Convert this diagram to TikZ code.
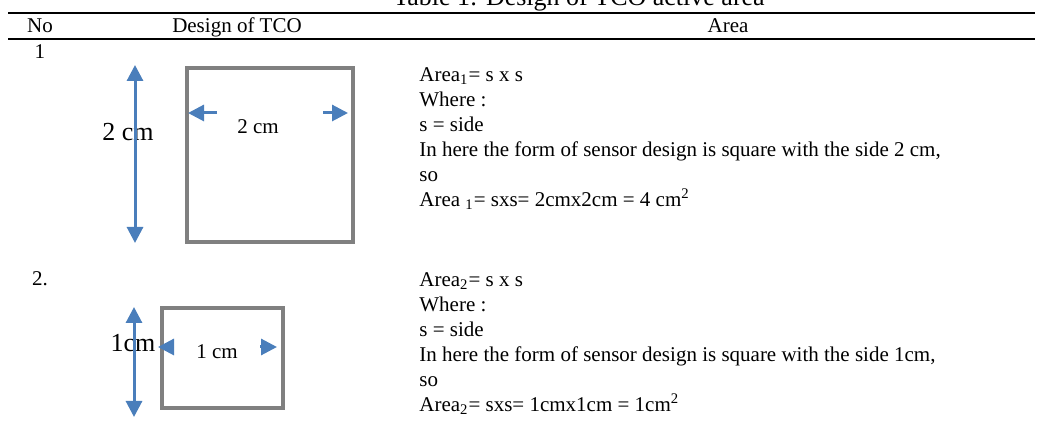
\documentclass[tikz,border=0pt]{standalone}
\usepackage{fontspec}
\setmainfont{Liberation Serif}
\usetikzlibrary{arrows.meta}
\definecolor{arrowblue}{RGB}{74,126,187}
\definecolor{framegray}{RGB}{128,128,128}

\begin{document}
\begin{tikzpicture}[x=0.5pt,y=-0.5pt,
    every node/.style={inner sep=0pt, font=\fontsize{10.5}{12.5}\selectfont},
    square/.style={draw=framegray, line width=2pt},
    rule/.style={line width=1pt},
    dimline/.style={draw=arrowblue, line width=1.5pt,
      {Triangle[width=8pt,length=8pt]}-{Triangle[width=8pt,length=8pt]}},
    sidearrow/.style={draw=arrowblue, line width=1.5pt, -{Triangle[width=8pt,length=8pt]}},
    biglabel/.style={font=\fontsize{13}{15}\selectfont},
    areatext/.style={anchor=north west, align=left}]
    \useasboundingbox (0,0) rectangle (1039,432);

    % caption and header
    \node[anchor=base, font=\fontsize{13}{15}\selectfont] (caption) at (579,6) {Table 1: Design of TCO active area};
    \coordinate (rA) at (8,13);
    \coordinate (rB) at (1035,13);
    \coordinate (rC) at (8,39);
    \coordinate (rD) at (1035,39);
    \draw[rule] (rA) -- (rB);
    \draw[rule] (rC) -- (rD);
    \node[anchor=base] (hno) at (40,33) {No};
    \node[anchor=base] (hdesign) at (237,33) {Design of TCO};
    \node[anchor=base] (harea) at (728,33) {Area};

    % row 1
    \node (no1) at (40,52) {1};
    \coordinate (sq1a) at (187,68);
    \coordinate (sq1b) at (353,242);
    \draw[square] (sq1a) rectangle (sq1b);
    \node[biglabel] (h1) at (128,132) {2 cm};
    \coordinate (v1top) at (135,65);
    \coordinate (v1bot) at (135,243);
    \draw[dimline] (v1top) -- (v1bot);
    \node (w1) at (258,127) {2 cm};
    \coordinate (l1tail) at (217,113);
    \coordinate (l1tip) at (188,113);
    \coordinate (r1tail) at (323,113);
    \coordinate (r1tip) at (348,113);
    \draw[sidearrow] (l1tail) -- (l1tip);
    \draw[sidearrow] (r1tail) -- (r1tip);
    \node[areatext] (area1) at (419,67) {Area\textsubscript{1}= s x s\\
      Where :\\
      s = side\\
      In here the form of sensor design is square with the side 2 cm,\\
      so\\
      Area \textsubscript{1}= sxs= 2cmx2cm = 4 cm\textsuperscript{2}};

    % row 2
    \node (no2) at (40,279) {2.};
    \coordinate (sq2a) at (162,308);
    \coordinate (sq2b) at (283,408);
    \draw[square] (sq2a) rectangle (sq2b);
    \node[biglabel] (h2) at (133,343) {1cm};
    \coordinate (v2top) at (134,307);
    \coordinate (v2bot) at (134,417);
    \draw[dimline] (v2top) -- (v2bot);
    \node (w2) at (217,352) {1 cm};
    \coordinate (l2tail) at (174,347);
    \coordinate (l2tip) at (158,347);
    \coordinate (r2tail) at (260,347);
    \coordinate (r2tip) at (277,347);
    \draw[sidearrow] (l2tail) -- (l2tip);
    \draw[sidearrow] (r2tail) -- (r2tip);
    \node[areatext] (area2) at (419,272) {Area\textsubscript{2}= s x s\\
      Where :\\
      s = side\\
      In here the form of sensor design is square with the side 1cm,\\
      so\\
      Area\textsubscript{2}= sxs= 1cmx1cm = 1cm\textsuperscript{2}};
\end{tikzpicture}
\end{document}
